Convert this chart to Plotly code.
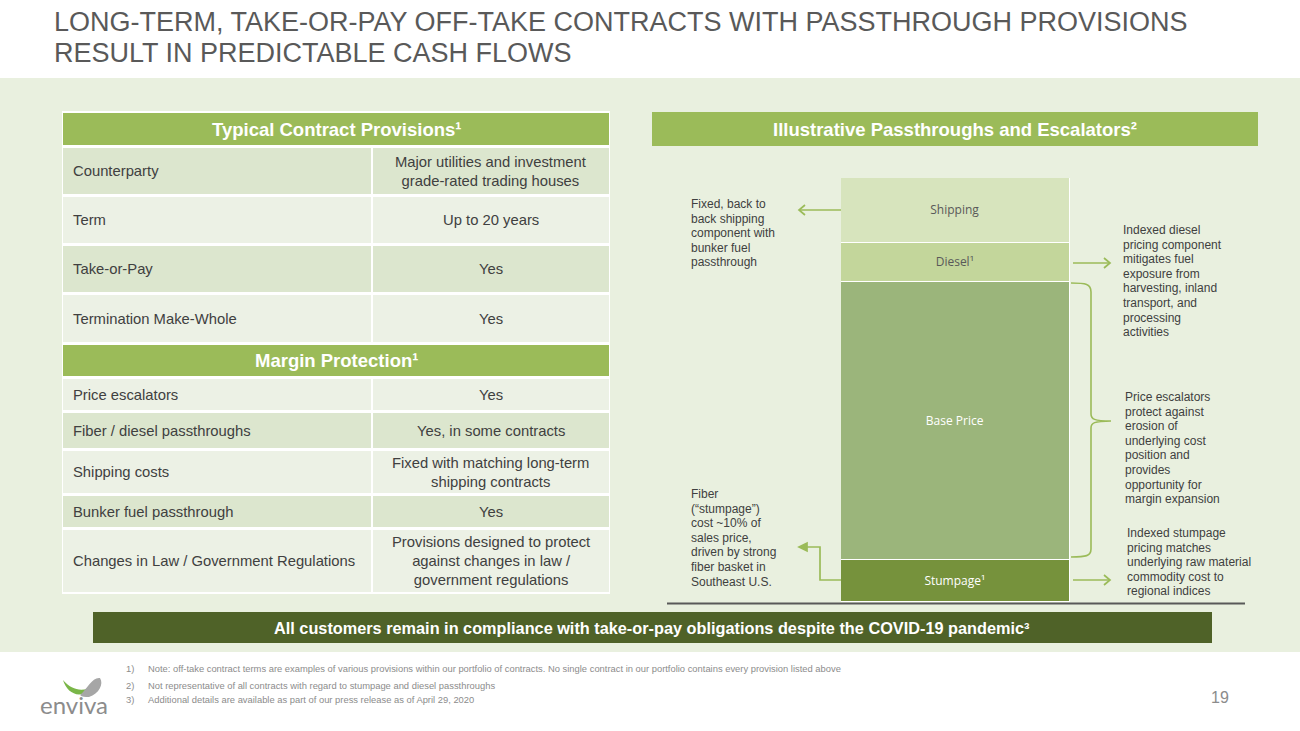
import plotly.graph_objects as go

# ---------------- data ----------------
title_lines = ["LONG-TERM, TAKE-OR-PAY OFF-TAKE CONTRACTS WITH PASSTHROUGH PROVISIONS",
               "RESULT IN PREDICTABLE CASH FLOWS"]

contract_header = "Typical Contract Provisions¹"
contract_labels = ["Counterparty", "Term", "Take-or-Pay", "Termination Make-Whole"]
contract_values = ["Major utilities and investment<br>grade-rated trading houses",
                   "Up to 20 years", "Yes", "Yes"]

margin_header = "Margin Protection¹"
margin_labels = ["Price escalators", "Fiber / diesel passthroughs", "Shipping costs",
                 "Bunker fuel passthrough", "Changes in Law / Government Regulations"]
margin_values = ["Yes", "Yes, in some contracts",
                 "Fixed with matching long-term<br>shipping contracts", "Yes",
                 "Provisions designed to protect<br>against changes in law /<br>government regulations"]

chart_header = "Illustrative Passthroughs and Escalators²"
bar_category = ["Illustrative price"]
segments = ["Stumpage¹", "Base Price", "Diesel¹", "Shipping"]
segment_values = [10.0, 65.5, 9.2, 15.3]

note_shipping = ["Fixed, back to", "back shipping", "component with", "bunker fuel", "passthrough"]
note_diesel = ["Indexed diesel", "pricing component", "mitigates fuel", "exposure from",
               "harvesting, inland", "transport, and", "processing", "activities"]
note_escalators = ["Price escalators", "protect against", "erosion of", "underlying cost",
                   "position and", "provides", "opportunity for", "margin expansion"]
note_stumpage_right = ["Indexed stumpage", "pricing matches", "underlying raw material",
                       "commodity cost to", "regional indices"]
note_stumpage_left = ["Fiber", "(“stumpage”)", "cost ~10% of", "sales price,",
                      "driven by strong", "fiber basket in", "Southeast U.S."]

banner_text = "All customers remain in compliance with take-or-pay obligations despite the COVID-19 pandemic³"
footnotes = ["Note: off-take contract terms are examples of various provisions within our portfolio of contracts. No single contract in our portfolio contains every provision listed above",
             "Not representative of all contracts with regard to stumpage and diesel passthroughs",
             "Additional details are available as part of our press release as of April 29, 2020"]
page_number = "19"

# ---------------- styling ----------------
W, H = 1300, 731
FONT = "Liberation Sans, Arial, sans-serif"
GREEN_HDR = "#9BBB59"
DARK_ROW = "#DCE6CE"
LIGHT_ROW = "#ECF1E5"
PANEL = "#E9F0DF"
TXT = "#404040"
seg_colors = ["#76923C", "#9BB57B", "#C3D69B", "#D7E4BD"]
seg_text_colors = ["white", "white", "#595959", "#595959"]


def px(x):
    return x / W


def py(y):
    return 1 - y / H


def path(points, close=False):
    s = ""
    for cmd, pts in points:
        s += cmd + " ".join(f"{px(a):.5f},{py(b):.5f}" for a, b in pts) + " "
    if close:
        s += "Z"
    return s


shapes = []
annotations = []


def rect(x0, y0, x1, y1, fill, line=None, lw=0):
    shapes.append(dict(type="rect", xref="paper", yref="paper", x0=px(x0), x1=px(x1),
                       y0=py(y1), y1=py(y0), fillcolor=fill, layer="below",
                       line=dict(color=line or fill, width=lw)))


def text(x, y, s, size, color=TXT, xanchor="left", yanchor="middle", bold=False,
         family=FONT, align="left"):
    if bold:
        s = f"<b>{s}</b>"
    annotations.append(dict(xref="paper", yref="paper", x=px(x), y=py(y), text=s,
                            showarrow=False, xanchor=xanchor, yanchor=yanchor, align=align,
                            font=dict(size=size, color=color, family=family)))


def note(x, y_first, lines, size=12, spacing=14.6):
    for i, ln in enumerate(lines):
        text(x - 2, y_first + i * spacing, ln, size)


# background panel
rect(0, 78, W, 652, PANEL)

# title
text(52, 22, title_lines[0], 27, color="#595959")
text(52, 53, title_lines[1], 27, color="#595959")

# ---------------- table ----------------
TX0, TXM, TX1 = 63, 372, 609
TS = 14.8
rect(TX0 - 1, 111, TX1 + 1, 594, "white")
rect(TX0, 113, TX1, 145, GREEN_HDR)
text((TX0 + TX1) / 2, 130, contract_header, 18.5, color="white", xanchor="center", bold=True)
contract_rows = [(148, 194), (197, 243), (246, 292), (295, 342)]
contract_fill = [DARK_ROW, LIGHT_ROW, DARK_ROW, LIGHT_ROW]
for (y0, y1), f, lab, val in zip(contract_rows, contract_fill, contract_labels, contract_values):
    rect(TX0, y0, TXM - 1, y1, f)
    rect(TXM + 1, y0, TX1, y1, f)
    text(TX0 + 8, (y0 + y1) / 2, lab, TS)
    text((TXM + TX1) / 2, (y0 + y1) / 2, val, TS, xanchor="center", align="center")

rect(TX0, 345, TX1, 376, GREEN_HDR)
text((TX0 + TX1) / 2, 361, margin_header, 18.5, color="white", xanchor="center", bold=True)
margin_rows = [(379, 410), (413, 448), (451, 493), (496, 527), (530, 592)]
margin_fill = [LIGHT_ROW, DARK_ROW, LIGHT_ROW, DARK_ROW, LIGHT_ROW]
for (y0, y1), f, lab, val in zip(margin_rows, margin_fill, margin_labels, margin_values):
    rect(TX0, y0, TXM - 1, y1, f)
    rect(TXM + 1, y0, TX1, y1, f)
    text(TX0 + 8, (y0 + y1) / 2, lab, TS)
    text((TXM + TX1) / 2, (y0 + y1) / 2, val, TS, xanchor="center", align="center")

# ---------------- chart header ----------------
rect(652, 112, 1258, 146, GREEN_HDR)
text(955, 130, chart_header, 18.5, color="white", xanchor="center", bold=True)

# baseline
shapes.append(dict(type="line", xref="paper", yref="paper", x0=px(667), x1=px(1245),
                   y0=py(603.5), y1=py(603.5), line=dict(color="#595959", width=2)))

# bar chart (stacked)
fig = go.Figure()
for name, val, col, tcol in zip(segments, segment_values, seg_colors, seg_text_colors):
    fig.add_trace(go.Bar(x=bar_category, y=[val], name=name,
                         marker=dict(color=col, line=dict(color="white", width=1.5)),
                         text=[name], textposition="inside", insidetextanchor="middle", textangle=0,
                         textfont=dict(family="Open Sans, sans-serif", size=12, color=tcol),
                         hoverinfo="skip"))

# arrows & brace (drawn as shapes)
ARROW = "#9BBB59"
AW = 1.7


def line_path(pts, close=False, fill=None):
    d = dict(type="path", xref="paper", yref="paper",
             path=path([("M", [pts[0]])] + [("L", [p]) for p in pts[1:]], close=close),
             line=dict(color=ARROW, width=AW))
    if fill:
        d["fillcolor"] = fill
    shapes.append(d)


def chevron_arrow(x_tail, x_head, y):
    line_path([(x_tail, y), (x_head, y)])
    d = 6 if x_head < x_tail else -6
    line_path([(x_head + d, y - 5), (x_head, y), (x_head + d, y + 5)])


chevron_arrow(841, 799, 210)
chevron_arrow(1073, 1110, 263)
chevron_arrow(1073, 1110, 580)

line_path([(841, 580), (820, 580), (820, 547), (806, 547)])
line_path([(799, 547), (807, 543), (807, 551)], close=True, fill=ARROW)

brace = path([("M", [(1071, 283)]), ("C", [(1086, 283), (1091, 284), (1091, 292)]),
              ("L", [(1091, 414)]), ("C", [(1091, 419), (1094, 421), (1111, 421)]),
              ("C", [(1094, 421), (1091, 423), (1091, 428)]), ("L", [(1091, 549)]),
              ("C", [(1091, 556), (1086, 557), (1071, 557)])])
shapes.append(dict(type="path", xref="paper", yref="paper", path=brace,
                   line=dict(color=ARROW, width=1.6)))

# side notes
note(691, 204, note_shipping)
note(1123, 230, note_diesel)
note(1125, 397, note_escalators)
note(1127, 533, note_stumpage_right)
note(691, 494, note_stumpage_left)

# banner
rect(93, 612, 1212, 643, "#4F6228")
text(652, 628, banner_text, 16.3, color="white", xanchor="center", bold=True)

# footnotes
for i, (yy, fn) in enumerate(zip([668, 685, 699], footnotes)):
    text(124, yy, f"{i + 1})", 9.4, color="#8C8C8C")
    text(146, yy, fn, 9.4, color="#8C8C8C")

text(1231, 697, page_number, 16, color="#8C8C8C", xanchor="right")

# logo
shapes.append(dict(type="path", xref="paper", yref="paper", layer="above",
                   path=path([("M", [(63, 680)]), ("C", [(67, 694), (82, 701), (93, 686)]),
                              ("C", [(84, 692), (72, 691), (63, 680)])], close=True),
                   fillcolor="#7AB648", line=dict(width=0)))
shapes.append(dict(type="path", xref="paper", yref="paper", layer="above",
                   path=path([("M", [(80, 695)]), ("C", [(88, 688), (92, 677), (100, 678)]),
                              ("C", [(104, 684), (99, 694), (89, 697)]),
                              ("C", [(85, 697), (82, 697), (80, 695)])], close=True),
                   fillcolor="#A6A6A6", line=dict(width=0)))
text(74, 704, "enviva", 24, color="#8C8C8C", xanchor="center", family="Lato, sans-serif")

fig.update_layout(
    width=W, height=H, margin=dict(l=0, r=0, t=0, b=0),
    paper_bgcolor="white", plot_bgcolor="rgba(0,0,0,0)",
    showlegend=False, barmode="stack", bargap=0,
    xaxis=dict(domain=[px(841), px(1070)], range=[-0.5, 0.5], visible=False, fixedrange=True),
    yaxis=dict(domain=[py(602), py(178)], range=[0, sum(segment_values)], visible=False, fixedrange=True),
    shapes=shapes, annotations=annotations,
)

fig.write_html("out.html", config={"displayModeBar": False},
               post_script="document.body.style.margin='0';")
